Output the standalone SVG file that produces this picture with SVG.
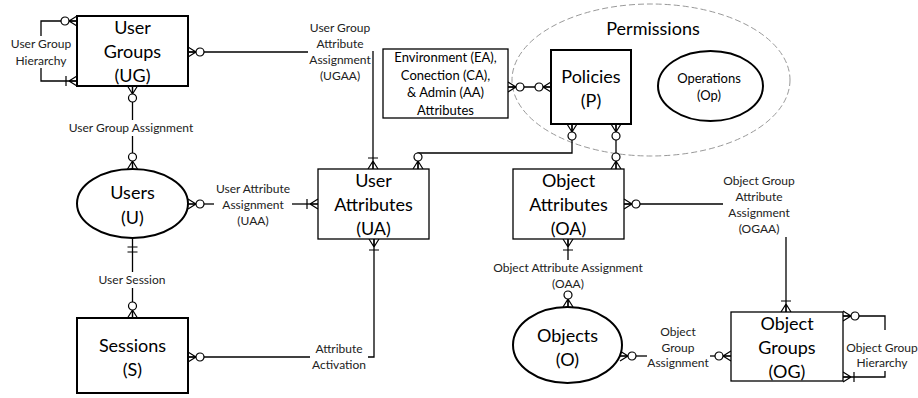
<svg xmlns="http://www.w3.org/2000/svg" width="918" height="398" viewBox="0 0 918 398">
  <style>
    .big { font-family: Lato, "Liberation Sans", sans-serif; font-size: 18px; fill: #000; text-anchor: middle; }
    .sm { font-family: Lato, "Liberation Sans", sans-serif; font-size: 12px; fill: #222; text-anchor: middle; }
    .mid { font-family: Lato, "Liberation Sans", sans-serif; font-size: 13px; fill: #000; text-anchor: middle; }
    .strong { fill: #fff; stroke: #000; stroke-width: 2; }
    .weak { fill: #fff; stroke: #000; stroke-width: 1.3; }
    .conn path { fill: none; stroke: #000; stroke-width: 1.3; }
    .mk { fill: none; stroke: #000; stroke-width: 1.2; }
    .mkc { fill: #fff; stroke: #000; stroke-width: 1.2; }
  </style>
  <defs>
    <!-- zero-or-many: crow's foot at the entity, circle behind it -->
    <marker id="zeroMany" viewBox="-20 -8 22 16" refX="0" refY="0" markerWidth="22" markerHeight="16" markerUnits="userSpaceOnUse" orient="auto-start-reverse" overflow="visible">
      <path class="mk" d="M-8,0 L0,-5 M-8,0 L0,0 M-8,0 L0,5"/>
      <circle class="mkc" cx="-12" cy="0" r="4"/>
    </marker>
    <!-- one-or-many: crow's foot with a bar -->
    <marker id="oneMany" viewBox="-20 -8 22 16" refX="0" refY="0" markerWidth="22" markerHeight="16" markerUnits="userSpaceOnUse" orient="auto-start-reverse" overflow="visible">
      <path class="mk" d="M-8,0 L0,-5 M-8,0 L0,0 M-8,0 L0,5 M-11,-5 L-11,5"/>
    </marker>
    <!-- exactly one: double bar -->
    <marker id="oneOne" viewBox="-20 -8 22 16" refX="0" refY="0" markerWidth="22" markerHeight="16" markerUnits="userSpaceOnUse" orient="auto-start-reverse" overflow="visible">
      <path class="mk" d="M-9,-5 L-9,5 M-14,-5 L-14,5"/>
    </marker>
  </defs>

  <!-- permissions boundary -->
  <g id="permissions">
    <ellipse cx="651" cy="80" rx="139" ry="76" fill="none" stroke="#999" stroke-width="1" stroke-dasharray="6 3"/>
    <text class="big" x="653" y="35">Permissions</text>
  </g>

  <!-- connectors -->
  <g class="conn" id="connectors">
    <!-- user group hierarchy -->
    <path d="M41,36 V21 H77" marker-end="url(#zeroMany)"/>
    <path d="M41,68 V81 H77" marker-end="url(#oneMany)"/>
    <!-- UGAA -->
    <path d="M308,52 H188" marker-end="url(#zeroMany)"/>
    <path d="M373,51 V169" marker-end="url(#oneMany)"/>
    <!-- user group assignment -->
    <path d="M132.5,120 V86" marker-end="url(#zeroMany)"/>
    <path d="M132.5,136 V169" marker-end="url(#zeroMany)"/>
    <!-- UAA -->
    <path d="M214,204 H188" marker-end="url(#zeroMany)"/>
    <path d="M292,204 H318" marker-end="url(#oneMany)"/>
    <!-- user session -->
    <path d="M132.5,272 V238" marker-end="url(#oneOne)"/>
    <path d="M132.5,288 V318" marker-end="url(#zeroMany)"/>
    <!-- attribute activation -->
    <path d="M310,357 H188" marker-end="url(#zeroMany)"/>
    <path d="M368,357 H374 V239" marker-end="url(#oneMany)"/>
    <!-- policies to user attributes -->
    <path d="M572,124 V153 H418 V169" marker-start="url(#zeroMany)" marker-end="url(#zeroMany)"/>
    <!-- policies to object attributes -->
    <path d="M616,124 V169" marker-start="url(#zeroMany)" marker-end="url(#zeroMany)"/>
    <!-- environment attributes to policies -->
    <path d="M508,87 H551" marker-start="url(#zeroMany)" marker-end="url(#zeroMany)"/>
    <!-- OGAA -->
    <path d="M723,204 H624" marker-end="url(#zeroMany)"/>
    <path d="M786,237 V312" marker-end="url(#oneMany)"/>
    <!-- OAA -->
    <path d="M568,260 V239" marker-end="url(#oneMany)"/>
    <path d="M568,292 V307" marker-end="url(#zeroMany)"/>
    <!-- object group assignment -->
    <path d="M647,356 H620" marker-end="url(#zeroMany)"/>
    <path d="M710,356 H731" marker-end="url(#zeroMany)"/>
    <!-- object group hierarchy -->
    <path d="M885,330 V316 H843" marker-end="url(#zeroMany)"/>
    <path d="M885,371 V377 H843" marker-end="url(#oneMany)"/>
  </g>

  <!-- relationship labels -->
  <g id="labels">
    <text class="sm" x="41" y="48">User Group</text>
    <text class="sm" x="41" y="65">Hierarchy</text>
    <text class="sm" x="340" y="32">User Group</text>
    <text class="sm" x="340" y="48">Attribute</text>
    <text class="sm" x="340" y="64">Assignment</text>
    <text class="sm" x="340" y="80">(UGAA)</text>
    <text class="sm" x="131" y="132">User Group Assignment</text>
    <text class="sm" x="253" y="193">User Attribute</text>
    <text class="sm" x="253" y="209">Assignment</text>
    <text class="sm" x="253" y="225">(UAA)</text>
    <text class="sm" x="132" y="284">User Session</text>
    <text class="sm" x="339" y="353">Attribute</text>
    <text class="sm" x="339" y="369">Activation</text>
    <text class="sm" x="759" y="185">Object Group</text>
    <text class="sm" x="759" y="201">Attribute</text>
    <text class="sm" x="759" y="217">Assignment</text>
    <text class="sm" x="759" y="233">(OGAA)</text>
    <text class="sm" x="568" y="272">Object Attribute Assignment</text>
    <text class="sm" x="568" y="288">(OAA)</text>
    <text class="sm" x="678" y="336">Object</text>
    <text class="sm" x="678" y="352">Group</text>
    <text class="sm" x="678" y="367">Assignment</text>
    <text class="sm" x="882" y="352">Object Group</text>
    <text class="sm" x="882" y="367">Hierarchy</text>
  </g>

  <!-- entities -->
  <g id="userGroups">
    <rect class="strong" x="77" y="16" width="111" height="70"/>
    <text class="big" x="132.5" y="34">User</text>
    <text class="big" x="132.5" y="58">Groups</text>
    <text class="big" x="132.5" y="82">(UG)</text>
  </g>
  <g id="users">
    <ellipse class="strong" cx="132.5" cy="203.5" rx="55.5" ry="34.5"/>
    <text class="big" x="132.5" y="199">Users</text>
    <text class="big" x="132.5" y="224">(U)</text>
  </g>
  <g id="sessions">
    <rect class="strong" x="77" y="318" width="111" height="75"/>
    <text class="big" x="132.5" y="352">Sessions</text>
    <text class="big" x="132.5" y="376">(S)</text>
  </g>
  <g id="userAttributes">
    <rect class="weak" x="318" y="169" width="111" height="70"/>
    <text class="big" x="373.5" y="187">User</text>
    <text class="big" x="373.5" y="211">Attributes</text>
    <text class="big" x="373.5" y="235">(UA)</text>
  </g>
  <g id="envAttributes">
    <rect class="weak" x="383" y="49" width="125" height="69"/>
    <text class="mid" x="445.5" y="62">Environment (EA),</text>
    <text class="mid" x="445.5" y="79.5">Conection (CA),</text>
    <text class="mid" x="445.5" y="97">&amp; Admin (AA)</text>
    <text class="mid" x="445.5" y="114.5">Attributes</text>
  </g>
  <g id="policies">
    <rect class="strong" x="551" y="50" width="80" height="74"/>
    <text class="big" x="591" y="83">Policies</text>
    <text class="big" x="591" y="107">(P)</text>
  </g>
  <g id="operations">
    <ellipse class="strong" cx="710.5" cy="86" rx="52.5" ry="35"/>
    <text class="mid" x="709" y="83">Operations</text>
    <text class="mid" x="709" y="100">(Op)</text>
  </g>
  <g id="objectAttributes">
    <rect class="weak" x="513" y="169" width="111" height="70"/>
    <text class="big" x="568.5" y="187">Object</text>
    <text class="big" x="568.5" y="211">Attributes</text>
    <text class="big" x="568.5" y="235">(OA)</text>
  </g>
  <g id="objects">
    <ellipse class="strong" cx="567.5" cy="345" rx="54.5" ry="38"/>
    <text class="big" x="567.5" y="342">Objects</text>
    <text class="big" x="567.5" y="366">(O)</text>
  </g>
  <g id="objectGroups">
    <rect class="weak" x="731" y="312" width="112" height="69"/>
    <text class="big" x="787" y="330">Object</text>
    <text class="big" x="787" y="354">Groups</text>
    <text class="big" x="787" y="378">(OG)</text>
  </g>
</svg>
